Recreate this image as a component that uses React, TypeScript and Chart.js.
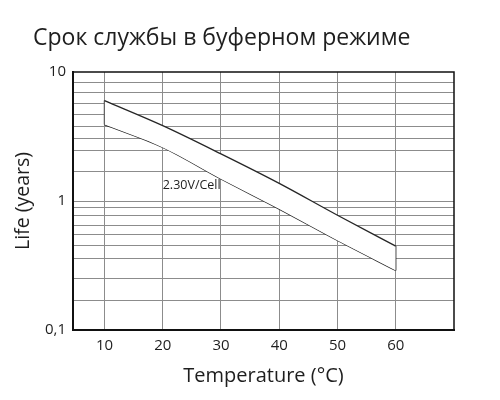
import React, { useEffect, useRef } from "react";
import { Chart, registerables } from "chart.js";

Chart.register(...registerables);

// ---- data ----
const chartTitle = "Срок службы в буферном режиме";
const xAxisTitle = "Temperature (°C)";
const yAxisTitle = "Life (years)";
const temperatures = [10, 20, 30, 40, 50, 60];
const lifeUpper = [6.0, 3.84, 2.32, 1.37, 0.776, 0.447];
const lifeLower = [3.91, 2.6, 1.48, 0.865, 0.494, 0.289];
const xTicks = [10, 20, 30, 40, 50, 60];
const yGridValues = [
  0.1, 0.17, 0.25, 0.36, 0.45, 0.55, 0.65, 0.77, 0.89,
  1, 1.7, 2.45, 3.05, 3.75, 4.65, 5.65, 6.9, 8.35, 10,
];
const yLabelValues = [0.1, 1, 10];
const yLabelTexts = ["0,1", "1", "10"];
const curveLabel = "2.30V/Cell";
const curveLabelX = 20;
const curveLabelY = 1.31;

const FONT = "'Open Sans', 'DejaVu Sans', sans-serif";
const LINE = "#262626";
const GRID = "#8c8c8c";
const TEXT = "#1e1e1e";

const decorPlugin = {
  id: "decor",
  afterDraw(chart: any) {
    const { ctx, chartArea, scales } = chart;
    ctx.save();
    // frame top + right
    ctx.strokeStyle = "#111";
    ctx.lineWidth = 1.5;
    ctx.beginPath();
    ctx.moveTo(chartArea.left, chartArea.top);
    ctx.lineTo(chartArea.right, chartArea.top);
    ctx.lineTo(chartArea.right, chartArea.bottom);
    ctx.stroke();
    // title
    ctx.fillStyle = TEXT;
    ctx.font = `23px ${FONT}`;
    ctx.textBaseline = "middle";
    ctx.textAlign = "left";
    ctx.fillText(chartTitle, 33, 38);
    // curve label
    ctx.font = `12.5px ${FONT}`;
    ctx.fillText(
      curveLabel,
      scales.x.getPixelForValue(curveLabelX),
      scales.y.getPixelForValue(curveLabelY)
    );
    ctx.restore();
  },
};

export default function App() {
  const ref = useRef<HTMLCanvasElement>(null);

  useEffect(() => {
    if (!ref.current) return;
    const pts = (ys: number[]) => temperatures.map((t, i) => ({ x: t, y: ys[i] }));
    const last = temperatures.length - 1;
    const lineCommon = {
      borderColor: LINE,
      borderWidth: 1.3,
      pointRadius: 0,
      pointHoverRadius: 0,
    };
    const chart = new Chart(ref.current, {
      type: "line",
      data: {
        datasets: [
          {
            ...lineCommon,
            data: pts(lifeUpper),
            cubicInterpolationMode: "monotone",
            fill: "+1",
            backgroundColor: "#ffffff",
          },
          {
            ...lineCommon,
            data: pts(lifeLower),
            cubicInterpolationMode: "monotone",
            fill: false,
          },
          {
            ...lineCommon,
            data: [
              { x: temperatures[0], y: lifeUpper[0] },
              { x: temperatures[0], y: lifeLower[0] },
            ],
            fill: false,
          },
          {
            ...lineCommon,
            data: [
              { x: temperatures[last], y: lifeUpper[last] },
              { x: temperatures[last], y: lifeLower[last] },
            ],
            fill: false,
          },
        ],
      } as any,
      plugins: [decorPlugin],
      options: {
        animation: false,
        responsive: false,
        layout: { padding: { left: 0, right: 46, top: 72, bottom: 0 } },
        plugins: {
          legend: { display: false },
          tooltip: { enabled: false },
          title: { display: false },
        },
        scales: {
          x: {
            type: "linear",
            min: 4.6,
            max: 70,
            afterBuildTicks: (s: any) => {
              s.ticks = xTicks.map((v) => ({ value: v }));
            },
            afterFit: (s: any) => {
              s.height = 70;
            },
            grid: { color: GRID, lineWidth: 1, drawTicks: false },
            border: { color: "#111", width: 2 },
            ticks: {
              autoSkip: false,
              maxRotation: 0,
              padding: 7,
              color: TEXT,
              font: { family: FONT, size: 15 },
              callback: (v: any) => String(v),
            },
            title: {
              display: true,
              text: xAxisTitle,
              color: TEXT,
              font: { family: FONT, size: 20 },
              padding: { top: 0, bottom: 12 },
            },
          },
          y: {
            type: "logarithmic",
            min: 0.1,
            max: 10,
            afterBuildTicks: (s: any) => {
              s.ticks = yGridValues.map((v) => ({ value: v }));
            },
            afterFit: (s: any) => {
              s.width = 73;
            },
            grid: {
              drawTicks: false,
              lineWidth: 1,
              color: (c: any) =>
                c.tick && (c.tick.value === 0.1 || c.tick.value === 10) ? "rgba(0,0,0,0)" : GRID,
            },
            border: { color: "#111", width: 2 },
            ticks: {
              autoSkip: false,
              padding: 7,
              color: TEXT,
              font: { family: FONT, size: 15 },
              callback: (v: any) => {
                const i = yLabelValues.findIndex((x) => Math.abs(x - Number(v)) < 1e-9);
                return i >= 0 ? yLabelTexts[i] : "";
              },
            },
            title: {
              display: true,
              text: yAxisTitle,
              color: TEXT,
              font: { family: FONT, size: 19.5 },
              padding: { top: 12, bottom: 0 },
            },
          },
        },
      } as any,
    });
    return () => chart.destroy();
  }, []);

  return (
    <div style={{ position: "fixed", left: 0, top: 0, width: 500, height: 400, background: "#fff" }}>
      <canvas ref={ref} width={500} height={400} style={{ display: "block" }} />
    </div>
  );
}
